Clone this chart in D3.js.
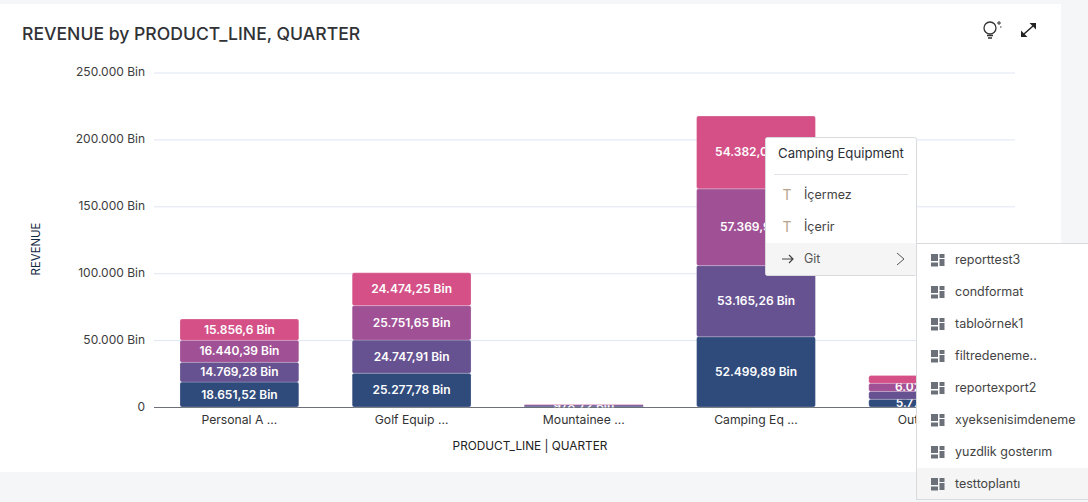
<!DOCTYPE html>
<html><head><meta charset="utf-8">
<script src="https://cdn.jsdelivr.net/npm/d3@7"></script>
<style>
html,body{margin:0;padding:0;background:#f5f6f8;width:1088px;height:502px;overflow:hidden;font-family:Inter,"Open Sans",sans-serif}
svg{position:absolute;left:0;top:0}
text{font-family:Inter,"Open Sans",sans-serif}
</style></head><body>
<svg id="c" width="1088" height="502"></svg>
<script>
const categories=["Personal A ...","Golf Equip ...","Mountainee ...","Camping Eq ...","Outdoor ..."];
const q1=[18651.52,25277.78,400,52499.89,5770];
const q2=[14769.28,24747.91,978.72,53165.26,5900];
const q3=[16440.39,25751.65,250,57369.9,6020];
const q4=[15856.6,24474.25,150,54382.05,5850];
const q1Labels=["18.651,52 Bin","25.277,78 Bin","","52.499,89 Bin","5.770,5 Bin"];
const q2Labels=["14.769,28 Bin","24.747,91 Bin","978,72 Bin","53.165,26 Bin",""];
const q3Labels=["16.440,39 Bin","25.751,65 Bin","","57.369,9 Bin","6.020,5 Bin"];
const q4Labels=["15.856,6 Bin","24.474,25 Bin","","54.382,05 Bin",""];
const colors=["#2f4b7c","#665191","#a05195","#d45087"];
const yTicks=[0,50000,100000,150000,200000,250000];
const yTickLabels=["0","50.000 Bin","100.000 Bin","150.000 Bin","200.000 Bin","250.000 Bin"];
const menuItems=["İçermez","İçerir"];
const subItems=["reporttest3","condformat","tabloörnek1","filtredeneme..","reportexport2","xyeksenisimdeneme","yuzdlik gosterım","testtoplantı"];

const svg=d3.select("#c");
const defs=svg.append("defs");
svg.append("rect").attr("x",0).attr("y",4).attr("width",1061).attr("height",468).attr("fill","#fff");
svg.append("text").attr("x",22).attr("y",40).attr("font-size",17.6).attr("font-weight",500).attr("fill","#303236").text("REVENUE by PRODUCT_LINE, QUARTER");

const x=d3.scaleBand().domain(categories).range([153.3,1014.3]).paddingInner(0.31).paddingOuter(0.155);
const y=d3.scaleLinear().domain([0,250000]).range([407,72.5]);

const grid=svg.append("g");
grid.selectAll("line").data(yTicks).join("line").attr("x1",154).attr("x2",1015)
 .attr("y1",d=>y(d)+.5).attr("y2",d=>y(d)+.5).attr("stroke",d=>d?"#e0e5f2":"#6e7079");
grid.selectAll("text").data(yTicks).join("text").attr("x",145).attr("y",d=>y(d)+3.5).attr("text-anchor","end")
 .attr("font-size",12).attr("fill","#3c3c3c").text((d,i)=>yTickLabels[i]);

const labels=[q1Labels,q2Labels,q3Labels,q4Labels];
const rows=categories.map((c,i)=>({c,q0:q1[i],q1:q2[i],q2:q3[i],q3:q4[i]}));
const stack=d3.stack().keys(["q0","q1","q2","q3"])(rows);
stack.forEach((s,k)=>{
 const g=svg.append("g");
 g.selectAll("rect").data(s).join("rect")
  .attr("x",d=>x(d.data.c)).attr("width",x.bandwidth())
  .attr("y",d=>y(d[1])).attr("height",d=>y(d[0])-y(d[1]))
  .attr("rx",d=>y(d[0])-y(d[1])>3?2:0).attr("fill",colors[k])
  .attr("stroke",d=>y(d[0])-y(d[1])>3?"#fff":"none").attr("stroke-opacity",.35).attr("stroke-width",.6);
 s.forEach((d,i)=>{
  defs.append("clipPath").attr("id",`cl${k}${i}`).append("rect")
   .attr("x",x(d.data.c)).attr("width",x.bandwidth()).attr("y",y(d[1])-1).attr("height",y(d[0])-y(d[1])+2);
 });
 g.selectAll("text").data(s).join("text")
  .attr("clip-path",(d,i)=>`url(#cl${k}${i})`)
  .attr("x",d=>x(d.data.c)+x.bandwidth()/2).attr("y",d=>(y(d[0])+y(d[1]))/2+4)
  .attr("text-anchor","middle").attr("font-size",12).attr("font-weight",600).attr("fill","#fff")
  .text((d,i)=>labels[k][i]);
});
const xa=svg.append("g");
xa.selectAll("text").data(categories).join("text").attr("x",d=>x(d)+x.bandwidth()/2).attr("y",424)
 .attr("text-anchor","middle").attr("font-size",12.2).attr("fill","#333").text(d=>d);
svg.append("text").attr("x",530).attr("y",450).attr("text-anchor","middle").attr("font-size",11.8).attr("fill","#222").text("PRODUCT_LINE | QUARTER");
svg.append("text").attr("transform","translate(40,249) rotate(-90)").attr("text-anchor","middle").attr("font-size",11.4).attr("fill","#12283f").text("REVENUE");

// toolbar icons
const ic=svg.append("g").attr("fill","none").attr("stroke","#333").attr("stroke-width",1.3);
ic.append("circle").attr("cx",990).attr("cy",28).attr("r",6);
ic.append("path").attr("d","M987 35.5h6M988 38h4");
ic.append("path").attr("d","M997 23h4M999 21v4M1000 27h1.5").attr("stroke-width",1);
ic.append("path").attr("d","M1024 34L1033 26").attr("stroke-width",1.5).attr("stroke","#222");
svg.append("path").attr("d","M1029.5 23h6.5v6.5zM1021 30.5v6.5h6.5z").attr("fill","#222");

// context menu
const m=svg.append("g");
m.append("rect").attr("x",765.5).attr("y",137.5).attr("width",151).attr("height",138).attr("rx",2).attr("fill","#fff").attr("stroke","#d8dade");
m.append("text").attr("x",778).attr("y",158).attr("font-size",13.2).attr("fill","#2c2f36").text("Camping Equipment");
m.append("line").attr("x1",774).attr("x2",908).attr("y1",174.5).attr("y2",174.5).attr("stroke","#e1e3e8");
m.selectAll("text.i").data(menuItems).join("text").attr("class","i").attr("x",804).attr("y",(d,i)=>199+i*32)
 .attr("font-size",12.5).attr("fill","#444").text(d=>d);
m.selectAll("text.t").data(menuItems).join("text").attr("class","t").attr("x",787).attr("y",(d,i)=>200+i*32)
 .attr("text-anchor","middle").attr("font-size",14).attr("fill","#b9a48c").text("T");
m.append("rect").attr("x",766).attr("y",243).attr("width",150).attr("height",32).attr("fill","#f5f5f5");
m.append("text").attr("x",804).attr("y",263).attr("font-size",12.5).attr("fill","#555").text("Git");
m.append("path").attr("d","M782 259h11M789 255l4 4-4 4").attr("fill","none").attr("stroke","#444").attr("stroke-width",1.2);
m.append("path").attr("d","M897 253l7 6-7 6").attr("fill","none").attr("stroke","#555").attr("stroke-width",1);

const sub=svg.append("g");
sub.append("rect").attr("x",916.5).attr("y",243.5).attr("width",180).attr("height",256).attr("fill","#fff").attr("stroke","#d8dade");
sub.append("rect").attr("x",917).attr("y",468).attr("width",171).attr("height",31).attr("fill","#f5f5f5");
subItems.forEach((t,i)=>{
 const yy=260+i*32;
 sub.append("text").attr("x",955).attr("y",yy+4).attr("font-size",12.5).attr("fill","#444").text(t);
 sub.append("path").attr("d",`M931 ${yy-6}h7v7h-7zM939.5 ${yy-6}h5v4h-5zM939.5 ${yy-1}h5v7h-5zM931 ${yy+2.5}h7v4h-7z`).attr("fill","#6b7079");
});
</script></body></html>
